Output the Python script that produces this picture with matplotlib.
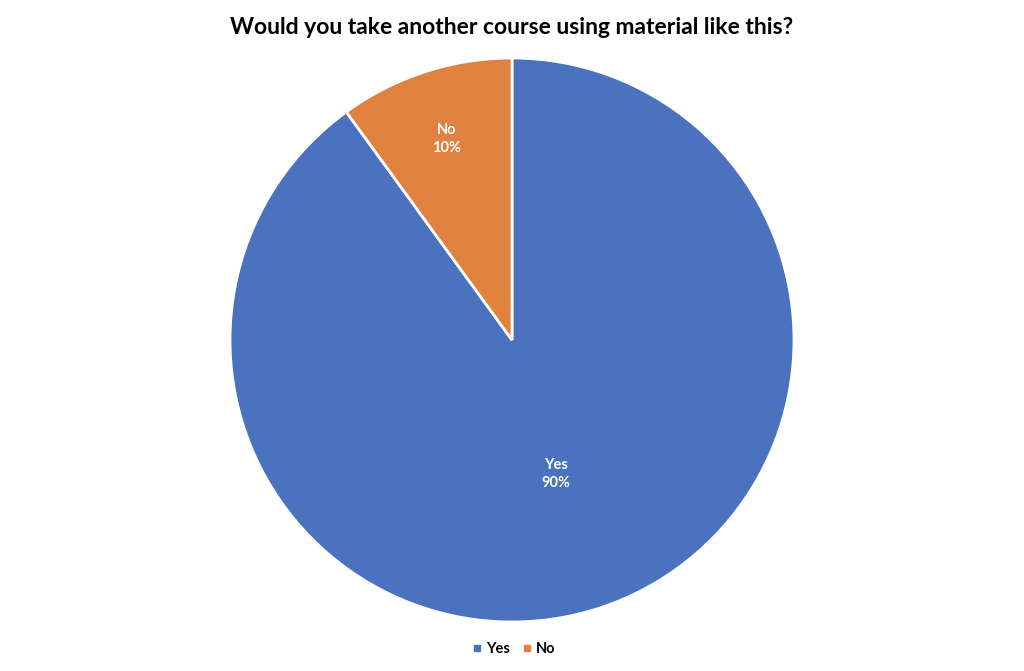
import numpy as np
import matplotlib
matplotlib.use("Agg")
from matplotlib import pyplot as plt
from matplotlib.lines import Line2D

# 数据
labels = ["Yes", "No"]
values = [90, 10]
colors = ["#4A72BE", "#E0823F"]
label_dist = [0.50, 0.75]  # 标签离圆心的距离

plt.rcParams['font.family'] = ['Lato', 'DejaVu Sans']

fig = plt.figure(figsize=(10.24, 6.71), dpi=100)
W, H = 1024, 671
cx, cy, r = 512, 340, 282
ax = fig.add_axes([(cx - r) / W, (H - cy - r) / H, 2 * r / W, 2 * r / H])

wedges, _ = ax.pie(values, colors=colors, startangle=90, counterclock=False,
                   radius=1, wedgeprops=dict(edgecolor="white", linewidth=2))
ax.set_xlim(-1.0, 1.0)
ax.set_ylim(-1.0, 1.0)
ax.set_aspect("equal")
ax.axis("off")

total = sum(values)
for w, lab, v, d in zip(wedges, labels, values, label_dist):
    ang = np.deg2rad((w.theta1 + w.theta2) / 2)
    ax.text(d * np.cos(ang), d * np.sin(ang), "%s\n%d%%" % (lab, round(100 * v / total)),
            ha="center", va="center", color="white", fontsize=10.5, fontweight="bold",
            linespacing=1.35)

fig.text(0.5, 1 - 27 / H, "Would you take another course using material like this?",
         ha="center", va="center", fontsize=16.5, fontweight="bold")

handles = [Line2D([], [], marker="s", linestyle="", markersize=4.5, color=c) for c in colors]
fig.legend(handles, labels, loc="center", bbox_to_anchor=(0.5, 1 - 649 / H), ncol=2,
           frameon=False, handletextpad=0.0, columnspacing=0.6, handlelength=1.2,
           prop=dict(size=10.5, weight="bold"))

fig.savefig("out.png", dpi=100)
